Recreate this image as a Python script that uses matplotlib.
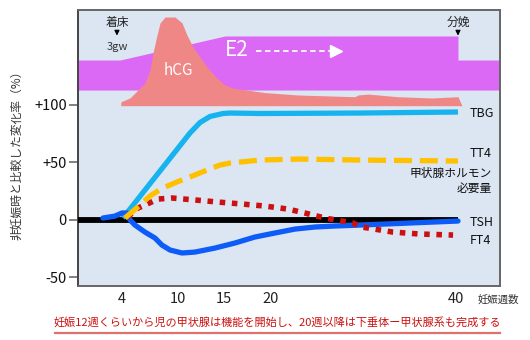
import matplotlib
matplotlib.use("Agg")
import matplotlib.pyplot as plt
from matplotlib.lines import Line2D

plt.rcParams['font.family'] = ['Noto Sans CJK JP', 'DejaVu Sans']

# ---- data (weeks of gestation, % change vs non-pregnant) ----
XMIN, XMAX = -0.74, 44.76
YMIN, YMAX = -57.8, 182.2

hcg_weeks = [3.86, 3.89, 4.86, 5.72, 6.48, 7.02, 7.34, 7.78, 8.10, 8.64, 9.72, 10.48,
             11.01, 11.66, 12.41, 13.27, 14.24, 15.10, 15.97, 19.42, 22.98, 26.65,
             29.12, 29.45, 30.53, 33.76, 37.43, 40.23, 40.66]
hcg_vals = [99, 102.4, 105.7, 112.6, 118.7, 130, 144.8, 160.4, 170.9, 176.1, 176.1, 170.9,
            160.4, 150, 141.3, 131.7, 123, 116.9, 114.3, 110.4, 108.3, 107.4,
            106.8, 108.3, 109.1, 106.8, 105.7, 106.8, 99]
hcg_base = 99

e2_weeks = [XMIN, 3.79, 15.1, 40.23, 40.23, XMAX]
e2_top = [138.7, 138.7, 159.6, 159.6, 138.7, 138.7]
e2_bottom = 112.6

tbg_weeks = [4.1, 11.33, 12.41, 13.49, 14.89, 15.65, 18.9, 29.7, 40.23]
tbg_vals = [1.3, 75.2, 84.3, 89.6, 92.2, 92.6, 92.2, 92.6, 93.5]

tt4_weeks = [4.32, 5.72, 7.02, 8.31, 10.04, 11.33, 13.17, 14.57, 15.65, 18.1, 18.9, 23.2,
             29.7, 40.23]
tt4_vals = [1.3, 10.9, 20.5, 27.0, 33.0, 37.0, 43.0, 47.4, 49.1, 51.1, 51.7, 52.6, 51.7, 50.9]

ft4_weeks = [4.6, 5.72, 6.48, 7.88, 9.39, 11.87, 14.35, 16.94, 19.42, 21.9, 23.7, 25.9,
             28.9, 29.7, 33.2, 36.1, 39.7]
ft4_vals = [2, 10.0, 12.6, 17.8, 18.7, 17.0, 15.2, 13.5, 11.7, 9.1, 5.7, 1.3,
            -3.0, -6.3, -10.9, -12.6, -13.5]

tsh_weeks = [1.95, 3.25, 4.0, 4.54, 4.87, 5.4, 6.48, 7.56, 8.31, 9.18, 10.47, 11.87,
             14.03, 16.19, 18.34, 20.5, 22.66, 24.81, 26.75, 29.7, 40.23]
tsh_vals = [1.3, 3.0, 5.7, 5.7, -0.4, -4.8, -10.9, -16.1, -22.2, -26.5, -29.1, -28.3,
            -24.8, -20.4, -15.2, -11.7, -8.3, -6.5, -5.7, -4.8, -1.3]

base_weeks = [XMIN, 40.23]
base_vals = [0, 0]

xtick_vals = [4, 10, 15, 20, 40]
xtick_labels = ['4', '10', '15', '20', '40']
ytick_vals = [100, 50, 0, -50]
ytick_labels = ['+100', '+50', '0', '-50']

right_labels = ['TBG', 'TT4', 'TSH', 'FT4']
right_label_vals = [92.6, 57.8, -2.2, -17.8]

# ---- figure ----
fig = plt.figure(figsize=(5.3, 3.4), dpi=100)
ax = fig.add_axes([78/530, 54/340, 422/530, 276/340])
ax.set_facecolor('#dce6f2')
ax.set_xlim(XMIN, XMAX)
ax.set_ylim(YMIN, YMAX)

# E2 band
ax.fill_between(e2_weeks, e2_bottom, e2_top, color='#dc68f6', lw=0, zorder=1)
# hCG
ax.fill_between(hcg_weeks, hcg_base, hcg_vals, color='#ef8787', lw=0, zorder=2)

# lines
ax.plot(base_weeks, base_vals, color='black', lw=4.2, solid_capstyle='butt', zorder=3)
ax.plot(tbg_weeks, tbg_vals, color='#17b3ee', lw=3.8, solid_capstyle='butt',
        solid_joinstyle='round', zorder=4)
ax.plot(tsh_weeks, tsh_vals, color='#0d5cf8', lw=3.8, solid_capstyle='round',
        solid_joinstyle='round', zorder=5)
ax.plot(ft4_weeks, ft4_vals, color='#cc1010', lw=4.0, dashes=(1.0, 1.2),
        dash_capstyle='butt', zorder=6)
ax.plot(tt4_weeks, tt4_vals, color='#ffc000', lw=3.8, dashes=(3.4, 1.5),
        dash_capstyle='butt', zorder=7)

# annotations in the plot
ax.text(10.04, 130, 'hCG', color='white', fontsize=11, ha='center', va='center', zorder=8)
ax.text(16.4, 147.4, 'E2', color='white', fontsize=15, ha='center', va='center', zorder=8)
ax.plot([18.4, 26.8], [146.5, 146.5], color='white', lw=1.3, dashes=(3, 2), zorder=8)
ax.plot([27.1], [146.5], marker='>', color='white', markersize=8, zorder=8)

ax.text(3.46, 171.7, '着床', fontsize=8.5, ha='center', va='center', color='#222')
ax.annotate('', xy=(3.46, 157.5), xytext=(3.46, 165.5),
            arrowprops=dict(arrowstyle='-|>', color='black', lw=0.9, mutation_scale=7))
ax.text(3.46, 150, '3gw', fontsize=8, ha='center', va='center', color='#333')

ax.text(40.23, 171.7, '分娩', fontsize=8.5, ha='center', va='center', color='#222')
ax.annotate('', xy=(40.23, 157.5), xytext=(40.23, 165.5),
            arrowprops=dict(arrowstyle='-|>', color='black', lw=0.9, mutation_scale=7))

for lab, v in zip(right_labels, right_label_vals):
    ax.text(41.5, v, lab, fontsize=9, ha='left', va='center', color='#111')
ax.text(43.9, 39.8, '甲状腺ホルモン', fontsize=8.5, ha='right', va='center', color='#111')
ax.text(43.9, 27.4, '必要量', fontsize=8.5, ha='right', va='center', color='#111')

# axes styling
ax.set_xticks(xtick_vals)
ax.set_xticklabels(xtick_labels)
ax.set_yticks(ytick_vals)
ax.set_yticklabels(ytick_labels)
ax.tick_params(axis='x', length=0, pad=4.5, labelsize=10.5, labelcolor='#222')
ax.tick_params(axis='y', length=6.5, width=1.3, color='#777', pad=1.5,
               labelsize=10.5, labelcolor='#111')
for s in ax.spines.values():
    s.set_color('#666')
    s.set_linewidth(1.4)
ax.spines['left'].set_color('#444')

fig.text(17/530, 1 - 152/340, '非妊娠時と比較した変化率（%）', rotation=90,
         fontsize=8.5, ha='center', va='center', color='#333')
fig.text(498/530, 1 - 300/340, '妊娠週数', fontsize=7.5, ha='center', va='center',
         color='#333')
fig.text(277.5/530, 1 - 322/340,
         '妊娠12週くらいから児の甲状腺は機能を開始し、20週以降は下垂体ー甲状腺系も完成する',
         fontsize=8, ha='center', va='center', color='#cc1010')
fig.add_artist(Line2D([55/530, 500/530], [1 - 333/340, 1 - 333/340],
                      color='#e07070', lw=1.6))

fig.savefig('out.png', dpi=100)
